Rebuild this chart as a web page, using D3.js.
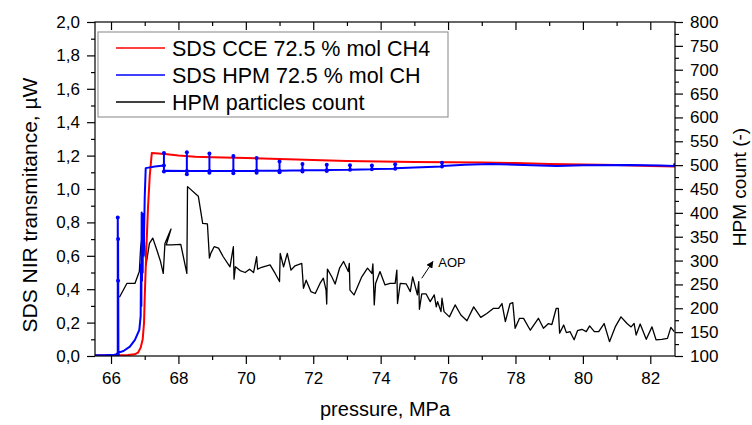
<!DOCTYPE html>
<html>
<head>
<meta charset="utf-8">
<script src="https://cdn.jsdelivr.net/npm/d3@7"></script>
<style>
body { margin: 0; background: #fff; }
svg text { font-family: "Liberation Sans", Arial, sans-serif; fill: #000; }
</style>
</head>
<body>
<svg id="chart" width="752" height="425"></svg>
<script>
// axis ticks
var pressureTicks = [66, 68, 70, 72, 74, 76, 78, 80, 82];
var pressureMinor = [67, 69, 71, 73, 75, 77, 79, 81];
var nirTicks = [0, 0.2, 0.4, 0.6, 0.8, 1.0, 1.2, 1.4, 1.6, 1.8, 2.0];
var nirMinor = [0.1, 0.3, 0.5, 0.7, 0.9, 1.1, 1.3, 1.5, 1.7, 1.9];
var countTicks = [100, 150, 200, 250, 300, 350, 400, 450, 500, 550, 600, 650, 700, 750, 800];
var countMinor = [125, 175, 225, 275, 325, 375, 425, 475, 525, 575, 625, 675, 725, 775];

var seriesNames = ["SDS CCE 72.5 % mol CH4", "SDS HPM 72.5 % mol CH", "HPM particles count"];
var seriesColors = ["#ff0000", "#0000ff", "#000000"];

// [pressure MPa, transmitance uW]
var cceRed = [[65.52, 0.003], [66.0, 0.004], [66.5, 0.006], [66.7, 0.01], [66.8, 0.02], [66.88, 0.05],
	[66.94, 0.1], [66.98, 0.2], [67.0, 0.35], [67.05, 0.65], [67.1, 0.9], [67.15, 1.08], [67.21, 1.215],
	[67.6, 1.21], [68.0, 1.2], [68.5, 1.193], [69, 1.19], [70, 1.185], [71, 1.18], [72, 1.173], [73, 1.168],
	[74, 1.165], [75, 1.162], [76, 1.16], [77, 1.158], [78, 1.155], [79, 1.15], [80, 1.147], [81, 1.143],
	[82, 1.138], [82.73, 1.134]];

var hpmBlue = [[65.52, 0.004], [65.8, 0.005], [66.1, 0.007], [66.2, 0.01], [66.2, 0.83], [66.21, 0.45],
	[66.21, 0.7], [66.22, 0.02], [66.37, 0.03], [66.56, 0.056], [66.71, 0.096], [66.84, 0.156], [66.88, 0.24],
	[66.89, 0.55], [66.9, 0.3], [66.91, 0.86], [66.92, 0.45], [66.93, 0.8], [66.94, 0.5], [66.95, 0.85],
	[66.97, 0.6], [67.0, 0.95], [67.03, 1.125], [67.3, 1.135], [67.57, 1.14], [67.57, 1.215], [67.57, 1.105],
	[67.6, 1.11], [68.25, 1.108], [68.25, 1.22], [68.25, 1.088], [68.27, 1.108], [68.92, 1.108], [68.92, 1.212],
	[68.92, 1.098], [68.94, 1.108], [69.63, 1.108], [69.63, 1.198], [69.63, 1.095], [69.65, 1.108],
	[70.32, 1.11], [70.32, 1.185], [70.32, 1.098], [70.34, 1.11], [71.0, 1.11], [71.0, 1.165], [71.0, 1.1],
	[71.02, 1.11], [71.68, 1.112], [71.68, 1.15], [71.68, 1.105], [71.7, 1.112], [72.4, 1.113], [72.4, 1.145],
	[72.4, 1.108], [72.42, 1.114], [73.09, 1.115], [73.09, 1.142], [73.1, 1.116], [73.74, 1.118], [73.74, 1.14],
	[73.75, 1.12], [74.43, 1.122], [74.43, 1.148], [74.44, 1.124], [75.0, 1.128], [75.82, 1.134], [75.82, 1.157],
	[75.83, 1.138], [76.5, 1.145], [77.25, 1.15], [78.0, 1.145], [79.23, 1.138], [80.0, 1.142], [81.4, 1.144],
	[82.3, 1.14], [82.7, 1.138], [82.72, 1.154]];

// [pressure MPa, particle count]
var particleCount = [[66.25, 223], [66.47, 252], [66.71, 252], [66.84, 277], [66.88, 329], [66.96, 368],
	[67.04, 291], [67.14, 336], [67.24, 347], [67.36, 322], [67.47, 298], [67.55, 273], [67.60, 336],
	[67.78, 366], [67.64, 333], [67.80, 333], [68.07, 334], [68.25, 273], [68.27, 455], [68.59, 435],
	[68.72, 378], [68.86, 377], [68.92, 305], [68.96, 315], [69.06, 329], [69.19, 326], [69.33, 308],
	[69.53, 287], [69.63, 329], [69.65, 261], [69.69, 287], [69.83, 279], [69.98, 275], [70.11, 282],
	[70.23, 275], [70.32, 308], [70.35, 282], [70.47, 286], [70.72, 291], [70.87, 273], [71.0, 256],
	[71.02, 315], [71.12, 287], [71.23, 315], [71.34, 280], [71.46, 289], [71.66, 294], [71.71, 242],
	[71.79, 259], [71.93, 235], [72.06, 231], [72.20, 252], [72.30, 263], [72.38, 238], [72.40, 209],
	[72.42, 282], [72.55, 266], [72.65, 251], [72.78, 284], [72.90, 298], [73.04, 277], [73.07, 294],
	[73.09, 238], [73.21, 228], [73.44, 266], [73.61, 284], [73.74, 273], [73.77, 293], [73.81, 207],
	[73.85, 252], [73.98, 277], [74.13, 249], [74.28, 252], [74.43, 252], [74.48, 280], [74.50, 210],
	[74.58, 252], [74.76, 251], [74.88, 235], [74.95, 266], [75.09, 228], [75.13, 256], [75.15, 198],
	[75.22, 230], [75.35, 230], [75.47, 214], [75.59, 228], [75.65, 203], [75.69, 214], [75.79, 193],
	[75.82, 221], [75.88, 193], [76.04, 182], [76.21, 207], [76.38, 186], [76.56, 174], [76.76, 203],
	[76.97, 181], [77.15, 189], [77.35, 200], [77.50, 200], [77.60, 210], [77.70, 172], [77.84, 210],
	[77.92, 212], [77.99, 158], [78.12, 179], [78.24, 179], [78.44, 154], [78.68, 179], [78.83, 158],
	[78.98, 168], [79.08, 166], [79.21, 200], [79.27, 200], [79.31, 148], [79.43, 165], [79.51, 149],
	[79.62, 151], [79.74, 134], [79.84, 153], [79.97, 156], [80.10, 151], [80.20, 163], [80.34, 151],
	[80.47, 151], [80.63, 168], [80.79, 130], [80.96, 161], [81.13, 182], [81.31, 168], [81.43, 161],
	[81.52, 168], [81.58, 144], [81.70, 167], [81.88, 135], [82.05, 161], [82.17, 134], [82.34, 135],
	[82.51, 137], [82.61, 160], [82.71, 151]];

// annotation, in data units of the count axis
var aopLabel = "AOP";
var aopArrow = [[75.22, 263], [75.55, 298]];
var aopText = [75.71, 287];

var svg = d3.select("#chart");
var plotLeft = 95, plotRight = 675, plotTop = 22, plotBottom = 356;

var x = d3.scaleLinear().domain([65.525, 82.733]).range([plotLeft, plotRight]);
var yL = d3.scaleLinear().domain([0, 2]).range([plotBottom, plotTop]);
var yR = d3.scaleLinear().domain([100, 800]).range([plotBottom, plotTop]);

var commaFmt = function (d) { return d3.format(".1f")(d).replace(".", ","); };

function styleAxis(g) {
	g.select(".domain").remove();
	g.selectAll("line").attr("stroke", "#000").attr("stroke-width", 1.2);
	g.selectAll("text").style("font-size", "17px");
}

// bottom axis
svg.append("g").attr("transform", "translate(0," + plotBottom + ")")
	.call(d3.axisBottom(x).tickValues(pressureTicks).tickSize(8).tickPadding(8).tickFormat(d3.format("d")))
	.call(styleAxis);
svg.append("g").attr("transform", "translate(0," + plotBottom + ")")
	.call(d3.axisBottom(x).tickValues(pressureMinor).tickSize(4).tickFormat(""))
	.call(styleAxis);
// top ticks, pointing into the plot
svg.append("g").attr("transform", "translate(0," + plotTop + ")")
	.call(d3.axisBottom(x).tickValues(pressureTicks).tickSize(8).tickFormat(""))
	.call(styleAxis);
svg.append("g").attr("transform", "translate(0," + plotTop + ")")
	.call(d3.axisBottom(x).tickValues(pressureMinor).tickSize(4).tickFormat(""))
	.call(styleAxis);

// left axis
svg.append("g").attr("transform", "translate(" + plotLeft + ",0)")
	.call(d3.axisLeft(yL).tickValues(nirTicks).tickSize(8).tickPadding(7).tickFormat(commaFmt))
	.call(styleAxis);
svg.append("g").attr("transform", "translate(" + plotLeft + ",0)")
	.call(d3.axisLeft(yL).tickValues(nirMinor).tickSize(4).tickFormat(""))
	.call(styleAxis);

// right axis
svg.append("g").attr("transform", "translate(" + plotRight + ",0)")
	.call(d3.axisRight(yR).tickValues(countTicks).tickSize(8).tickPadding(7).tickFormat(d3.format("d")))
	.call(styleAxis);
svg.append("g").attr("transform", "translate(" + plotRight + ",0)")
	.call(d3.axisRight(yR).tickValues(countMinor).tickSize(4).tickFormat(""))
	.call(styleAxis);

svg.append("clipPath").attr("id", "plotclip")
  .append("rect").attr("x", plotLeft).attr("y", plotTop)
	.attr("width", plotRight - plotLeft).attr("height", plotBottom - plotTop);

var plot = svg.append("g").attr("clip-path", "url(#plotclip)");

var lineL = d3.line().x(function (d) { return x(d[0]); }).y(function (d) { return yL(d[1]); });
var lineR = d3.line().x(function (d) { return x(d[0]); }).y(function (d) { return yR(d[1]); });

plot.append("path").datum(particleCount)
	.attr("d", lineR).attr("fill", "none").attr("stroke", seriesColors[2])
	.attr("stroke-width", 1.3).attr("stroke-linejoin", "round");

plot.append("path").datum(cceRed)
	.attr("d", lineL).attr("fill", "none").attr("stroke", seriesColors[0])
	.attr("stroke-width", 2).attr("stroke-linejoin", "round");

plot.append("path").datum(hpmBlue)
	.attr("d", lineL).attr("fill", "none").attr("stroke", seriesColors[1])
	.attr("stroke-width", 2).attr("stroke-linejoin", "round");

// dots where the blue trace jumps vertically
var blueDots = hpmBlue.filter(function (d, i) {
	var prev = hpmBlue[i - 1], next = hpmBlue[i + 1];
	return (prev && prev[0] === d[0]) || (next && next[0] === d[0]);
});
plot.selectAll("circle.bdot").data(blueDots).enter()
  .append("circle").attr("class", "bdot")
	.attr("cx", function (d) { return x(d[0]); })
	.attr("cy", function (d) { return yL(d[1]); })
	.attr("r", 2).attr("fill", seriesColors[1]);

// frame
svg.append("rect").attr("x", plotLeft).attr("y", plotTop)
	.attr("width", plotRight - plotLeft).attr("height", plotBottom - plotTop)
	.attr("fill", "none").attr("stroke", "#000").attr("stroke-width", 1.2);

// AOP arrow
svg.append("defs").append("marker").attr("id", "arrowhead")
	.attr("viewBox", "0 0 10 10").attr("refX", 9).attr("refY", 5)
	.attr("markerWidth", 7).attr("markerHeight", 7).attr("orient", "auto")
  .append("path").attr("d", "M0,0L10,5L0,10z").attr("fill", "#000");
svg.append("line")
	.attr("x1", x(aopArrow[0][0])).attr("y1", yR(aopArrow[0][1]))
	.attr("x2", x(aopArrow[1][0])).attr("y2", yR(aopArrow[1][1]))
	.attr("stroke", "#000").attr("stroke-width", 1).attr("marker-end", "url(#arrowhead)");
svg.append("text").attr("x", x(aopText[0])).attr("y", yR(aopText[1]))
	.style("font-size", "13px").text(aopLabel);

// legend
var legend = svg.append("g");
legend.append("rect").attr("x", 98).attr("y", 32).attr("width", 350).attr("height", 85)
	.attr("fill", "#fff").attr("stroke", "#999").attr("stroke-width", 1.2);
var row = legend.selectAll("g.row").data(seriesNames).enter()
  .append("g").attr("class", "row")
	.attr("transform", function (d, i) { return "translate(0," + (48 + i * 27) + ")"; });
row.append("line").attr("x1", 116).attr("x2", 165)
	.attr("stroke", function (d, i) { return seriesColors[i]; }).attr("stroke-width", 1.4);
row.append("text").attr("x", 172).attr("y", 8).style("font-size", "21.5px")
	.text(function (d) { return d; });

// axis titles
svg.append("text").attr("x", (plotLeft + plotRight) / 2).attr("y", 416).attr("text-anchor", "middle")
	.style("font-size", "20px").text("pressure, MPa");
svg.append("text").attr("transform", "translate(37," + ((plotTop + plotBottom) / 2 + 16) + ") rotate(-90)")
	.attr("text-anchor", "middle").style("font-size", "21px").text("SDS NIR transmitance, \u00b5W");
svg.append("text").attr("transform", "translate(746," + ((plotTop + plotBottom) / 2 - 2) + ") rotate(-90)")
	.attr("text-anchor", "middle").style("font-size", "19px").text("HPM count (-)");
</script>
</body>
</html>
